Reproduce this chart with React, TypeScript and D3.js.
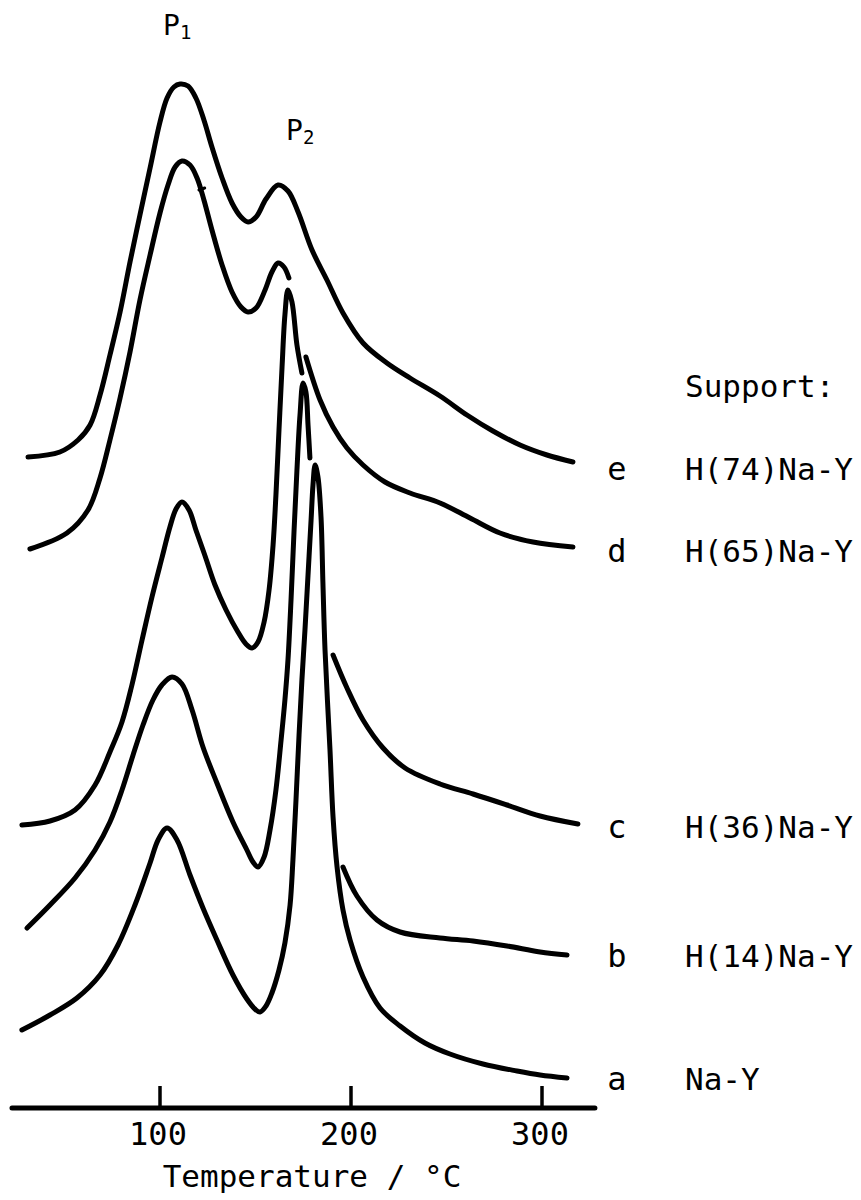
import React from "react";
import * as d3 from "d3";

// TPD traces, one per support; letters and names top to bottom in the legend
const traceIds = ["a", "b", "c", "d", "e"];
const supports = ["Na-Y", "H(14)Na-Y", "H(36)Na-Y", "H(65)Na-Y", "H(74)Na-Y"];
const offsets = [7.8, 18.0, 28.3, 55.9, 65.1]; // vertical shift of each trace
const xTicks = [100, 200, 300];
const axisRange = [22.5, 327.7];

// temperature (°C) and signal above the trace's own baseline.
// NaN marks where the pen was lifted because traces cross.
const tempA = [27.7, 42.4, 56.5, 68.6, 78.0, 86.9, 94.8, 99.0, 103.7, 108.9, 115.7, 122.5, 129.8, 138.2, 145.5, 149.7, 152.4, 155.5, 158.6, 162.3, 165.4, 168.1, 169.6, 171.2, 172.8, 174.3, 175.9, 177.5, 179.1, 180.1, 181.2, 182.7, 184.3, 185.3, 186.4, 189.0, 190.6, 192.7, 195.8, 199.5, 206.3, 215.2, 225.7, 238.7, 251.8, 269.1, 286.9, 299.0, 313.1];
const sigA = [0, 1.5, 3.2, 5.5, 8.5, 12.5, 16.7, 19.0, 20.2, 19.0, 15.5, 12.2, 9.0, 5.5, 3.1, 2.1, 1.8, 2.4, 3.7, 6.0, 8.7, 12.5, 17.0, 23.0, 29.5, 35.0, 40.0, 45.5, 51.0, 54.5, 56.5, 55.3, 51.3, 44.7, 38.0, 28.0, 21.3, 16.3, 12.0, 9.0, 5.3, 2.2, 0.4, -1.3, -2.4, -3.4, -4.1, -4.5, -4.8];

const tempB = [30.4, 42.4, 55.5, 66.0, 73.8, 80.1, 85.9, 91.1, 96.3, 101.0, 106.3, 111.5, 116.8, 122.5, 129.8, 138.2, 145.5, 148.7, 151.3, 154.5, 157.6, 160.7, 163.4, 165.4, 167.0, 168.6, 170.2, 171.7, 173.3, 174.9, 176.4, 177.5, 178.5, 186.0, 195.8, 203.1, 213.6, 225.7, 246.6, 263.9, 281.7, 299.0, 313.1];
const sigB = [0, 2.3, 5.0, 7.8, 10.6, 13.8, 17.3, 20.3, 22.8, 24.3, 25.1, 24.4, 21.8, 18.1, 14.5, 10.6, 7.8, 6.6, 6.1, 7.1, 9.8, 13.8, 18.8, 22.8, 26.8, 32.8, 39.8, 45.8, 51.3, 54.5, 53.6, 50.3, 47.0, NaN, 6.1, 3.2, 0.8, -0.4, -1.0, -1.3, -1.8, -2.4, -2.7];

const tempC = [27.7, 42.4, 55.5, 66.0, 73.8, 80.1, 85.3, 90.6, 95.8, 101.0, 105.2, 108.4, 111.5, 115.2, 118.8, 123.6, 128.8, 134.6, 140.8, 145.0, 148.2, 151.3, 154.5, 157.1, 159.2, 160.7, 162.3, 163.9, 165.4, 167.0, 169.1, 171.7, 174.3, 182.0, 190.6, 197.9, 206.3, 216.8, 228.3, 246.6, 263.9, 281.7, 299.0, 318.8];
const sigC = [0, 0.4, 1.5, 4.0, 7.3, 10.3, 14.0, 18.5, 22.8, 26.7, 29.8, 31.6, 32.3, 31.5, 29.5, 26.9, 24.0, 21.5, 19.3, 18.1, 17.7, 18.3, 20.3, 23.5, 28.0, 33.0, 39.5, 45.8, 51.0, 53.5, 52.3, 48.0, 45.2, NaN, 17.0, 13.7, 10.5, 7.7, 5.7, 4.1, 3.1, 2.0, 0.9, 0.1];

const tempD = [31.9, 51.3, 62.3, 68.6, 73.8, 79.1, 84.3, 89.5, 94.8, 100.0, 104.2, 107.9, 111.5, 115.7, 119.4, 123.0, 127.2, 132.5, 137.7, 142.4, 146.1, 150.3, 155.0, 158.6, 161.8, 164.9, 167.5, 172.0, 176.4, 183.8, 190.6, 197.9, 206.3, 217.8, 230.9, 246.6, 262.3, 278.0, 295.3, 316.2];
const sigD = [0, 1.6, 3.9, 7.1, 10.9, 15.1, 19.7, 24.9, 29.4, 33.6, 36.4, 38.2, 38.8, 38.4, 37.1, 34.9, 31.9, 28.4, 25.7, 24.2, 23.7, 24.1, 25.9, 27.7, 28.6, 28.2, 27.1, NaN, 19.2, 14.9, 12.2, 10.1, 8.4, 6.7, 5.6, 4.6, 3.1, 1.6, 0.7, 0.2];

const tempE = [30.9, 47.6, 57.1, 63.4, 68.6, 73.8, 79.1, 84.3, 89.5, 94.8, 100.0, 103.7, 107.3, 110.5, 114.7, 118.8, 123.0, 127.2, 132.5, 137.7, 142.4, 146.1, 150.3, 155.5, 161.8, 167.0, 172.3, 179.6, 187.4, 195.8, 206.3, 218.8, 230.9, 246.6, 260.7, 274.3, 288.5, 302.6, 316.2];
const sigE = [0, 0.5, 1.7, 3.2, 6.2, 10.2, 14.5, 19.5, 24.2, 28.9, 33.5, 35.9, 37.0, 37.3, 37.1, 35.9, 33.7, 31.0, 27.9, 25.4, 24.0, 23.5, 24.0, 25.8, 27.2, 26.6, 24.5, 20.7, 17.7, 14.4, 11.4, 9.4, 7.9, 6.1, 4.2, 2.6, 1.2, 0.2, -0.5];

const temps = [tempA, tempB, tempC, tempD, tempE];
const signals = [sigA, sigB, sigC, sigD, sigE];

const W = 861;
const H = 1200;
const FONT = "DejaVu Sans Mono";

export default function App() {
  const x = d3.scaleLinear().domain([100, 300]).range([160, 542]);
  const y = d3.scaleLinear().domain([0, 110]).range([1108, 8]);
  const axisY = y(0);

  const line = d3
    .line<[number, number]>()
    .defined((d) => !Number.isNaN(d[1]))
    .x((d) => x(d[0]))
    .y((d) => y(d[1]))
    .curve(d3.curveCatmullRom.alpha(0.5));

  const traces = temps.map((ts, i) =>
    ts.map((t, j) => [t, signals[i][j] + offsets[i]] as [number, number])
  );

  // legend rows sit beside the tail of each trace
  const labelBase = [1090, 967, 838, 562, 480];

  return (
    <svg
      width={W}
      height={H}
      style={{ position: "absolute", left: 0, top: 0, background: "#fff" }}
      fontFamily={FONT}
    >
      <rect width={W} height={H} fill="#fff" />
      {traces.map((pts, i) => (
        <path
          key={traceIds[i]}
          d={line(pts) || ""}
          fill="none"
          stroke="#000"
          strokeWidth={5}
          strokeLinecap="round"
          strokeLinejoin="round"
        />
      ))}
      {/* small stray pen mark beside trace d */}
      <line
        x1={x(120.4)}
        x2={x(123.4)}
        y1={y(offsets[3] + 35.9)}
        y2={y(offsets[3] + 36.1)}
        stroke="#000"
        strokeWidth={3}
        strokeLinecap="round"
      />

      {/* x axis: heavy rule with upward ticks */}
      <line
        x1={x(axisRange[0])}
        x2={x(axisRange[1])}
        y1={axisY}
        y2={axisY}
        stroke="#000"
        strokeWidth={5}
        strokeLinecap="round"
      />
      {xTicks.map((t) => (
        <g key={t}>
          <line x1={x(t)} x2={x(t)} y1={axisY} y2={axisY - 22} stroke="#000" strokeWidth={3.5} />
          <text x={x(t) - 2} y={axisY + 37} fontSize={32} textAnchor="middle">
            {t}
          </text>
        </g>
      ))}
      <text x={312} y={1187} fontSize={31} textAnchor="middle">
        Temperature / °C
      </text>

      {/* peak markers */}
      <text x={x(101.6)} y={35} fontSize={28}>
        P<tspan fontSize={19} dy={4}>1</tspan>
      </text>
      <text x={x(166)} y={140} fontSize={28}>
        P<tspan fontSize={19} dy={4}>2</tspan>
      </text>

      {/* legend */}
      <text x={685} y={397} fontSize={31}>
        Support:
      </text>
      {traceIds.map((id, i) => (
        <g key={id}>
          <text x={617} y={labelBase[i]} fontSize={32} textAnchor="middle">
            {id}
          </text>
          <text x={685} y={labelBase[i]} fontSize={31}>
            {supports[i]}
          </text>
        </g>
      ))}
    </svg>
  );
}
